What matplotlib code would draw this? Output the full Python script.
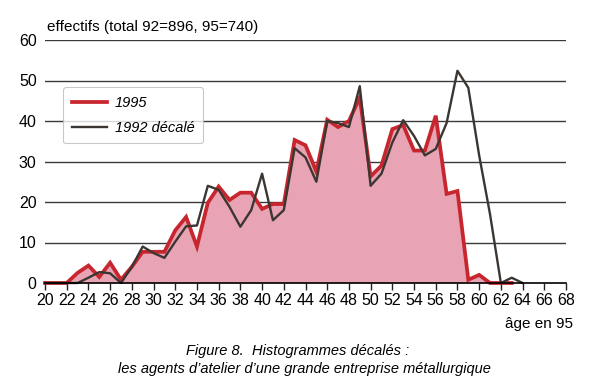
import matplotlib.pyplot as plt

# --------------------------
# données
# --------------------------
ages_95 = [20, 21, 22, 23, 24, 25, 26, 27, 28, 29, 30, 31, 32, 33, 34, 35, 36, 37, 38, 39, 40, 41,
           42, 43, 44, 45, 46, 47, 48, 49, 50, 51, 52, 53, 54, 55, 56, 57, 58, 59, 60, 61, 62, 63]
eff_95 = [0, 0, 0, 2.5, 4.3, 1.5, 5, 0.8, 4, 7.7, 7.7, 7.7, 13, 16.3, 9, 19.8, 23.8, 20.5, 22.3, 22.3, 18.3, 19.5,
          19.5, 35.3, 34, 27.5, 40.3, 38.5, 40, 45.8, 26.3, 29, 38, 39, 32.7, 32.7, 41.3, 22, 22.7, 0.8, 2, 0, 0, 0]

ages_92 = [20, 21, 22, 23, 24, 25, 26, 27, 28, 29, 30, 31, 32, 33, 34, 35, 36, 37, 38, 39, 40, 41, 42,
           43, 44, 45, 46, 47, 48, 49, 50, 51, 52, 53, 54, 55, 56, 57, 58, 59, 60, 61, 62, 63, 64]
eff_92 = [0, 0, 0, 0, 1.3, 2.7, 2.4, 0, 4, 9, 7.4, 6.2, 10.2, 14, 14.2, 24, 23, 18.8, 13.9, 18, 27, 15.5, 18,
          33.3, 31, 25, 40, 39.5, 38.5, 48.6, 24, 27, 34.7, 40.2, 36.3, 31.5, 33.1, 39.5, 52.4, 48.2, 31.5, 17, 0, 1.3, 0]

xticks = list(range(20, 70, 2))
yticks = [0, 10, 20, 30, 40, 50, 60]

plt.rcParams['font.family'] = ['Liberation Sans', 'DejaVu Sans']

fig = plt.figure(figsize=(5.91, 3.89), dpi=100)
ax = fig.add_axes([45 / 591, 1 - 283 / 389, 521 / 591, 243 / 389])

# grille horizontale
for y in yticks[1:]:
    ax.axhline(y, color="#3a3a3a", lw=1.0, zorder=1)

# 1995 : surface + trait rouge
ax.fill_between(ages_95, eff_95, 0, color="#e8a4b4", lw=0, zorder=2)
ax.plot(ages_95, eff_95, color="#c8262e", lw=2.7, solid_joinstyle="miter",
        label="1995", zorder=3, clip_on=False)
# 1992 décalé : trait gris foncé
ax.plot(ages_92, eff_92, color="#3b3631", lw=1.7, label="1992 décalé", zorder=4, clip_on=False)

ax.set_xlim(20, 68)
ax.set_ylim(0, 60)
ax.set_xticks(xticks)
ax.set_yticks(yticks)
ax.tick_params(axis="x", direction="out", length=5, width=1, pad=2, labelsize=11.5, color="#222222")
ax.tick_params(axis="y", length=0, pad=6, labelsize=11.5)

for s in ["top", "right", "left"]:
    ax.spines[s].set_visible(False)
ax.spines["bottom"].set_linewidth(1.2)
ax.spines["bottom"].set_zorder(5)

leg = ax.legend(loc="upper left", bbox_to_anchor=(18 / 521, 1 - 47 / 243), borderaxespad=0,
                prop={"style": "italic", "size": 10.5}, frameon=True, fancybox=True,
                handlelength=2.4, handletextpad=0.55, labelspacing=0.75, borderpad=0.6)
leg.get_frame().set_edgecolor("#bbbbbb")
leg.get_frame().set_linewidth(0.8)

# textes
fig.text(47 / 591, 1 - 31 / 389, "effectifs (total 92=896, 95=740)", fontsize=11, ha="left", va="baseline")
fig.text(573 / 591, 1 - 328 / 389, "âge en 95", fontsize=11, ha="right", va="baseline")
fig.text(298 / 591, 1 - 355 / 389, "Figure 8.  Histogrammes décalés :", fontsize=10.5,
         style="italic", ha="center", va="baseline")
fig.text(304 / 591, 1 - 373 / 389, "les agents d’atelier d’une grande entreprise métallurgique",
         fontsize=10.5, style="italic", ha="center", va="baseline")

plt.savefig("out.png", dpi=100)
